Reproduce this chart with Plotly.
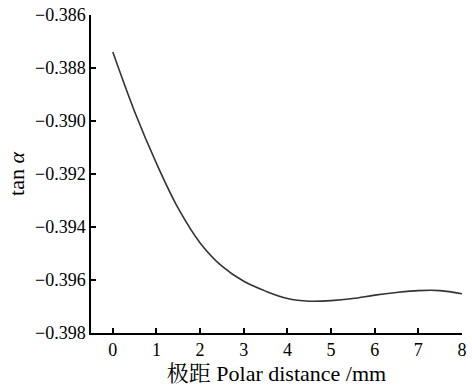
import plotly.graph_objects as go

x_vals = [0, 0.5, 1.0, 1.5, 2.0, 2.5, 3.0, 3.5, 4.0, 4.5, 5.0, 5.5, 6.0, 6.5, 7.0, 7.5, 8.0]
y_vals = [-0.38740, -0.38965, -0.39160, -0.39330, -0.39460, -0.39548, -0.39605,
          -0.39642, -0.39670, -0.39680, -0.39678, -0.39670, -0.39657, -0.39647, -0.39640,
          -0.39640, -0.39652]

x_ticks = [0, 1, 2, 3, 4, 5, 6, 7, 8]
y_ticks = [-0.386, -0.388, -0.390, -0.392, -0.394, -0.396, -0.398]
y_ticktext = ["\u22120.386", "\u22120.388", "\u22120.390", "\u22120.392", "\u22120.394", "\u22120.396", "\u22120.398"]

font_family = "Liberation Serif, Noto Serif CJK SC"

fig = go.Figure()
fig.add_trace(go.Scatter(x=x_vals, y=y_vals, mode="lines",
                         line=dict(color="#333333", width=1.6, shape="spline", smoothing=1.0),
                         showlegend=False))

fig.update_layout(
    width=472, height=389,
    margin=dict(l=91, r=10, t=15, b=56),
    paper_bgcolor="white", plot_bgcolor="white",
    font=dict(family=font_family, size=18, color="black"),
    xaxis=dict(range=[-0.5, 8], tickvals=x_ticks, ticks="inside", ticklen=5, tickwidth=1.5,
               tickcolor="black", showline=True, linecolor="black", linewidth=1.5,
               showgrid=False, zeroline=False, automargin=False,
               title=dict(text="极距 Polar distance /mm", standoff=6)),
    yaxis=dict(range=[-0.398, -0.386], tickvals=y_ticks, ticktext=y_ticktext, ticks="inside",
               ticklen=5, tickwidth=1.5, tickcolor="black", showline=True, linecolor="black",
               linewidth=1.5, showgrid=False, zeroline=False, automargin=False,
               title=dict(text="tan <i>α</i>", standoff=4)),
)

fig.write_html("out.html")
